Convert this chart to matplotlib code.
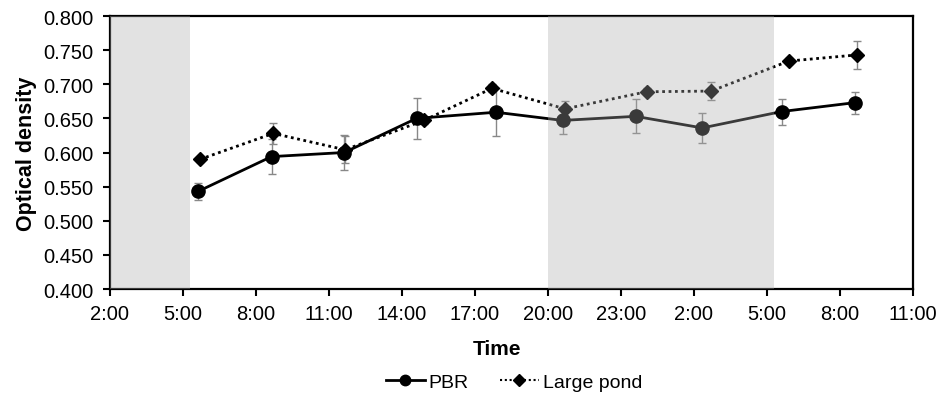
import matplotlib
matplotlib.use("Agg")
import matplotlib.pyplot as plt
from matplotlib.lines import Line2D

# hours after 2:00 on day 1
pbr_t = [3.62, 6.64, 9.63, 12.6, 15.86, 18.6, 21.6, 24.34, 27.6, 30.6]
pbr_od = [0.543, 0.594, 0.600, 0.650, 0.659, 0.647, 0.653, 0.636, 0.660, 0.673]
pbr_err = [0.013, 0.026, 0.025, 0.030, 0.035, 0.020, 0.025, 0.022, 0.019, 0.016]

pond_t = [3.7, 6.71, 9.66, 12.9, 15.7, 18.7, 22.05, 24.7, 27.9, 30.7]
pond_od = [0.590, 0.628, 0.604, 0.647, 0.694, 0.664, 0.689, 0.690, 0.734, 0.743]
pond_err = [0.004, 0.015, 0.020, 0.005, 0.006, 0.012, 0.005, 0.013, 0.005, 0.020]

dark_periods = [(0, 3.3), (18, 27.3)]
tick_labels = ["2:00", "5:00", "8:00", "11:00", "14:00", "17:00", "20:00",
               "23:00", "2:00", "5:00", "8:00", "11:00"]

plt.rcParams['font.family'] = ['Liberation Sans', 'DejaVu Sans']

fig = plt.figure(figsize=(9.43, 4.02), dpi=100)
ax = fig.add_axes([0.1166, 0.2786, 0.8516, 0.6791])

dotted = (0, (1, 1.3))
ax.errorbar(pbr_t, pbr_od, yerr=pbr_err, color='black', lw=2, marker='o',
            markersize=9.5, ecolor='#888888', elinewidth=1, capsize=3,
            zorder=3)
ax.errorbar(pond_t, pond_od, yerr=pond_err, color='black', lw=2,
            linestyle=dotted, marker='D', markersize=7,
            ecolor='#888888', elinewidth=1, capsize=3, zorder=3)

# night shading laid over the data, like the original
for a, b in dark_periods:
    ax.axvspan(a, b, color='#ababab', alpha=0.34, lw=0, zorder=4)

ax.set_xlim(0, 33)
ax.set_ylim(0.4, 0.8)
ax.set_xticks(range(0, 34, 3))
ax.set_xticklabels(tick_labels)
ax.set_yticks([0.4 + 0.05 * i for i in range(9)])
ax.set_yticklabels(["%.3f" % (0.4 + 0.05 * i) for i in range(9)])
ax.tick_params(axis='both', direction='out', length=5, width=1.5,
               labelsize=14.5, colors='black')
ax.tick_params(axis='x', pad=6)
ax.tick_params(axis='y', pad=7)
for s in ax.spines.values():
    s.set_linewidth(1.6)

ax.set_ylabel("Optical density", fontsize=15.5, fontweight='bold', labelpad=4)
fig.text(0.527, 1 - 350 / 402, "Time", fontsize=15, fontweight='bold',
         ha='center', va='center')

handles = [Line2D([], [], color='black', lw=2, marker='o', markersize=7.5),
           Line2D([], [], color='black', lw=1.5, linestyle=dotted,
                  marker='D', markersize=6)]
fig.legend(handles, ['PBR', 'Large pond'], loc='center',
           bbox_to_anchor=(0.545, 0.047), ncol=2, frameon=False,
           fontsize=14, handlelength=2.0, columnspacing=1.6, handletextpad=0.2)

fig.savefig("out.png", dpi=100)
